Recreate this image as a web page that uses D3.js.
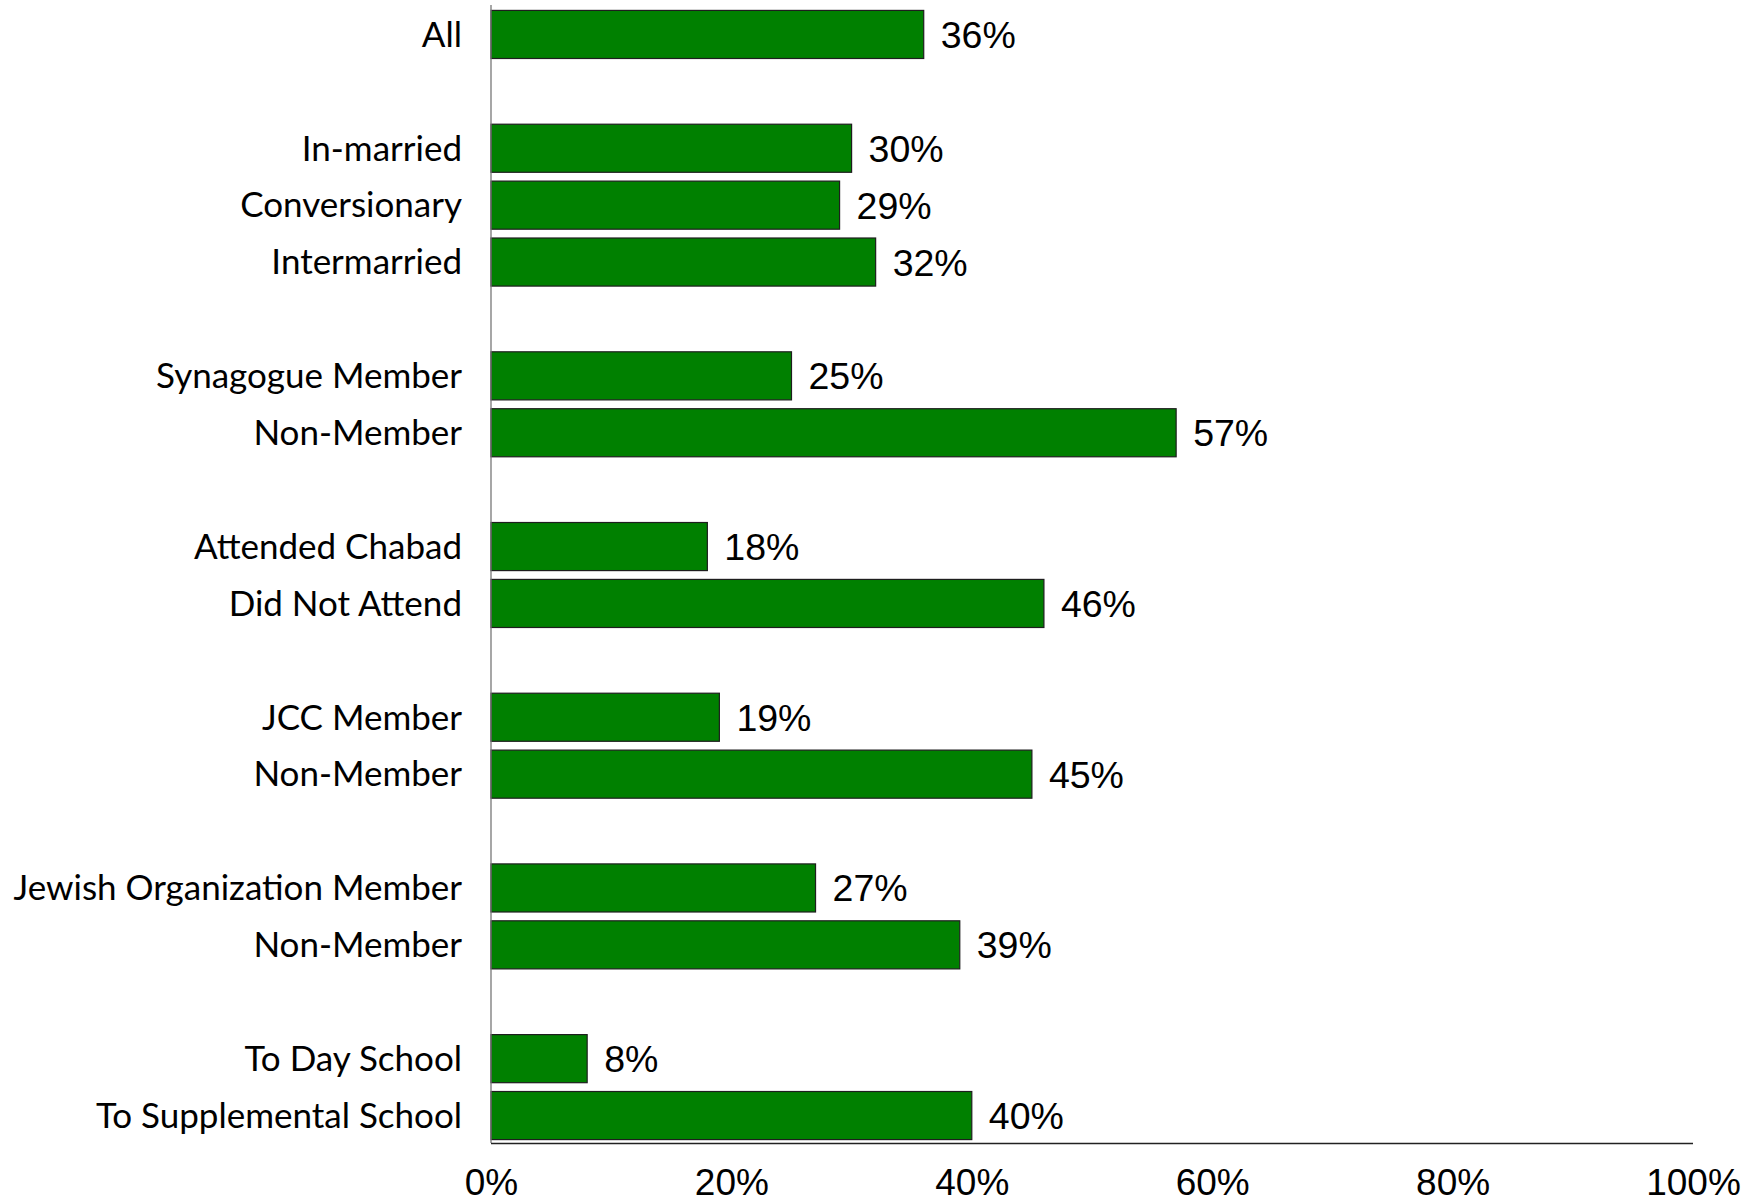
<!DOCTYPE html>
<html>
<head>
<meta charset="utf-8">
<script src="https://cdn.jsdelivr.net/npm/d3@7"></script>
<style>
  html, body { margin: 0; padding: 0; background: #fff; }
  svg { display: block; }
</style>
</head>
<body>
<svg id="chart" width="1758" height="1202"></svg>
<script>
// Data ("" marks an empty spacer slot between groups)
const categories = [
  "All", "",
  "In-married", "Conversionary", "Intermarried", "",
  "Synagogue Member", "Non-Member", "",
  "Attended Chabad", "Did Not Attend", "",
  "JCC Member", "Non-Member", "",
  "Jewish Organization Member", "Non-Member", "",
  "To Day School", "To Supplemental School"
];
const values = [
  36, null,
  30, 29, 32, null,
  25, 57, null,
  18, 46, null,
  19, 45, null,
  27, 39, null,
  8, 40
];
const tickValues = [0, 20, 40, 60, 80, 100];
const tickLabels = ["0%", "20%", "40%", "60%", "80%", "100%"];

const svg = d3.select("#chart");
const x0 = 491, x1 = 1693, yTop = 6, yBottom = 1144;

const x = d3.scaleLinear().domain([0, 100]).range([x0, x1]);
const y = d3.scaleBand()
  .domain(d3.range(categories.length))
  .range([yTop, yBottom])
  .paddingInner(0.155)
  .paddingOuter(0.0775);

const rows = categories.map((c, i) => ({ i, label: c, value: values[i] }))
  .filter(d => d.value !== null);

// Bars
svg.append("g").selectAll("rect").data(rows).join("rect")
  .attr("x", x(0))
  .attr("y", d => y(d.i))
  .attr("width", d => x(d.value) - x(0))
  .attr("height", y.bandwidth())
  .attr("fill", "#008000")
  .attr("stroke", "#1e1e1e")
  .attr("stroke-width", 1.2);

// Value labels
svg.append("g").selectAll("text").data(rows).join("text")
  .attr("x", d => x(d.value) + 17)
  .attr("y", d => y(d.i) + y.bandwidth() / 2)
  .attr("dy", "0.36em")
  .attr("font-family", "'Liberation Sans', Arial, sans-serif")
  .attr("font-size", 37.5)
  .attr("fill", "#000")
  .text(d => d.value + "%");

// Category labels
svg.append("g").selectAll("text").data(rows).join("text")
  .attr("x", x0 - 29)
  .attr("y", d => y(d.i) + y.bandwidth() / 2)
  .attr("dy", "0.35em")
  .attr("text-anchor", "end")
  .attr("font-family", "Lato, 'Open Sans', sans-serif")
  .attr("font-size", 35)
  .attr("fill", "#000")
  .text(d => d.label);

// Vertical axis line
svg.append("line")
  .attr("x1", x0).attr("x2", x0)
  .attr("y1", 5).attr("y2", 1143)
  .attr("stroke", "#777").attr("stroke-width", 1.3);

// Bottom axis
const xAxis = d3.axisBottom(x)
  .tickValues(tickValues)
  .tickFormat((d, i) => tickLabels[i])
  .tickSize(0)
  .tickPadding(0);
const gx = svg.append("g").attr("transform", `translate(0,1143)`).call(xAxis);
gx.select(".domain").attr("stroke", "#222").attr("stroke-width", 1.5).attr("d", `M${x0},0.5H${x1}`);
gx.selectAll(".tick text")
  .attr("y", 52)
  .attr("dy", 0)
  .attr("font-family", "'Liberation Sans', Arial, sans-serif")
  .attr("font-size", 37)
  .attr("fill", "#000");
</script>
</body>
</html>
